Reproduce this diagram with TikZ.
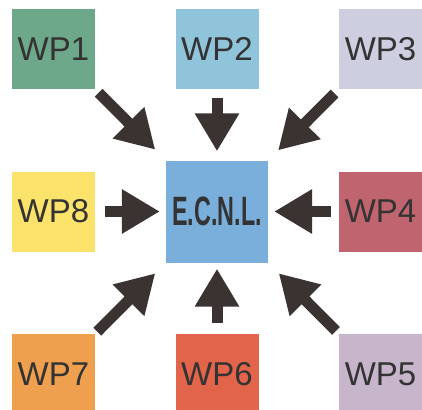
\documentclass[tikz,border=0pt]{standalone}
\usepackage{fontspec}
\setmainfont{Liberation Sans}
\usetikzlibrary{arrows.meta}

\definecolor{wpone}{HTML}{6EA88A}
\definecolor{wptwo}{HTML}{8FC4DA}
\definecolor{wpthree}{HTML}{CDCEDF}
\definecolor{wpfour}{HTML}{C0646F}
\definecolor{wpfive}{HTML}{C7B6CB}
\definecolor{wpsix}{HTML}{E2644A}
\definecolor{wpseven}{HTML}{EFA04F}
\definecolor{wpeight}{HTML}{FBE36B}
\definecolor{ecnlblue}{HTML}{7BAFDB}
\definecolor{arrowgray}{HTML}{3A3331}
\definecolor{textgray}{HTML}{333333}

\tikzset{
  wp/.style={minimum width=83pt, minimum height=80pt, inner sep=0pt,
    text=textgray, font=\fontsize{33}{33}\selectfont},
  bigarrow/.style={draw=arrowgray, line width=11pt,
    -{Triangle[length=38pt,width=42pt]}}
}

\begin{document}
\begin{tikzpicture}[x=1pt,y=-1pt]
  \useasboundingbox (0,0) rectangle (422,409);
  \clip (0,0) rectangle (422,409);
  \node[wp,fill=wpone] (wp1) at (53.5,49) {WP1};
  \node[wp,fill=wptwo] (wp2) at (217,49) {WP2};
  \node[wp,fill=wpthree] (wp3) at (380.5,49) {WP3};
  \node[wp,fill=wpeight] (wp8) at (53.5,211.5) {WP8};
  \node[wp,fill=wpfour] (wp4) at (380.5,211.5) {WP4};
  \node[wp,fill=wpseven] (wp7) at (53.5,374) {WP7};
  \node[wp,fill=wpsix] (wp6) at (217,374) {WP6};
  \node[wp,fill=wpfive] (wp5) at (380.5,374) {WP5};
  \node[fill=ecnlblue, minimum size=102pt, inner sep=0pt, text=textgray]
    (ecnl) at (217,211.5)
    {\scalebox{0.57}[1]{\fontsize{41}{41}\selectfont\bfseries E.C.N.L.}};
  % arrows into the centre
  \draw[bigarrow, shorten <=5pt, shorten >=15pt] (wp1.south east) -- (ecnl.north west);
  \draw[bigarrow, shorten <=9pt, shorten >=9pt] (wp2.south) -- (ecnl.north);
  \draw[bigarrow, shorten <=6pt, shorten >=14pt] (wp3.south west) -- (ecnl.north east);
  \draw[bigarrow, shorten <=10pt, shorten >=6pt] (wp8.east) -- (ecnl.west);
  \draw[bigarrow, shorten <=8pt, shorten >=6pt] (wp4.west) -- (ecnl.east);
  \draw[bigarrow, shorten <=3pt, shorten >=15pt] (wp7.north east) -- (ecnl.south west);
  \draw[bigarrow, shorten <=11pt, shorten >=6pt] (wp6.north) -- (ecnl.south);
  \draw[bigarrow, shorten <=4pt, shorten >=15pt] (wp5.north west) -- (ecnl.south east);
\end{tikzpicture}
\end{document}
